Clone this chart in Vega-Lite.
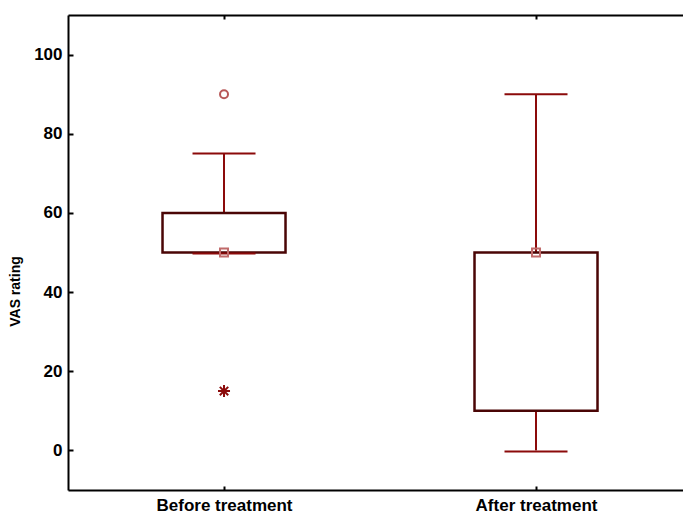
{
  "$schema": "https://vega.github.io/schema/vega-lite/v6.json",
  "width": 615,
  "height": 475,
  "autosize": {"type": "none"},
  "padding": {"left": 68, "top": 15, "right": 0, "bottom": 23},
  "background": "white",
  "config": {
    "view": {"stroke": null},
    "font": "Liberation Sans",
    "axis": {
      "labelFont": "Liberation Sans",
      "labelFontWeight": "bold",
      "labelFontSize": 17,
      "labelColor": "black",
      "titleFont": "Liberation Sans",
      "titleFontWeight": "bold",
      "titleColor": "black",
      "domainColor": "black",
      "domainWidth": 2,
      "tickColor": "black",
      "tickWidth": 2,
      "grid": false
    }
  },
  "datasets": {
    "boxes": [
      {"group": "Before treatment", "min": 50, "q1": 50, "median": 50, "q3": 60, "max": 75},
      {"group": "After treatment", "min": 0, "q1": 10, "median": 50, "q3": 50, "max": 90}
    ],
    "outliers": [
      {"group": "Before treatment", "value": 90}
    ],
    "extremes": [
      {"group": "Before treatment", "value": 15}
    ]
  },
  "resolve": {"axis": {"x": "independent"}},
  "layer": [
    {
      "data": {"name": "boxes"},
      "mark": {"type": "rule", "color": "#8b0a0a", "strokeWidth": 2},
      "encoding": {
        "x": {
          "field": "group",
          "type": "nominal",
          "sort": ["Before treatment", "After treatment"],
          "scale": {"type": "point", "padding": 0.4856, "align": 0.5149},
          "axis": {
            "orient": "bottom",
            "title": null,
            "labelAngle": 0,
            "tickSize": -4,
            "labelPadding": 11
          }
        },
        "y": {
          "field": "q3",
          "type": "quantitative",
          "scale": {"domain": [-10, 110], "nice": false, "zero": false},
          "axis": {
            "title": "VAS rating",
            "titleFontSize": 14,
            "labelFontSize": 17,
            "values": [0, 20, 40, 60, 80, 100],
            "tickSize": -5,
            "labelPadding": 11,
            "titleX": -46,
            "titleY": 276
          }
        },
        "y2": {"field": "max"}
      }
    },
    {
      "data": {"name": "boxes"},
      "mark": {"type": "rule", "color": "#8b0a0a", "strokeWidth": 2},
      "encoding": {
        "x": {"field": "group", "type": "nominal", "sort": ["Before treatment", "After treatment"], "axis": null},
        "y": {"field": "min", "type": "quantitative"},
        "y2": {"field": "q1"}
      }
    },
    {
      "data": {"name": "boxes"},
      "mark": {"type": "bar", "size": 123, "fill": "white", "stroke": "#4a0505", "strokeWidth": 2.5},
      "encoding": {
        "x": {"field": "group", "type": "nominal", "sort": ["Before treatment", "After treatment"], "axis": null},
        "y": {"field": "q1", "type": "quantitative"},
        "y2": {"field": "q3"}
      }
    },
    {
      "data": {"name": "boxes"},
      "mark": {"type": "tick", "size": 63, "thickness": 2, "color": "#8b0a0a", "opacity": 1},
      "encoding": {
        "x": {"field": "group", "type": "nominal", "sort": ["Before treatment", "After treatment"], "axis": null},
        "y": {"field": "max", "type": "quantitative"}
      }
    },
    {
      "data": {"name": "boxes"},
      "mark": {"type": "tick", "size": 63, "thickness": 2, "color": "#8b0a0a", "opacity": 1, "yOffset": 1},
      "encoding": {
        "x": {"field": "group", "type": "nominal", "sort": ["Before treatment", "After treatment"], "axis": null},
        "y": {"field": "min", "type": "quantitative"}
      }
    },
    {
      "data": {"name": "boxes"},
      "mark": {"type": "point", "shape": "square", "size": 64, "filled": false, "stroke": "#c06a6a", "strokeWidth": 2, "opacity": 1},
      "encoding": {
        "x": {"field": "group", "type": "nominal", "sort": ["Before treatment", "After treatment"], "axis": null},
        "y": {"field": "median", "type": "quantitative"}
      }
    },
    {
      "data": {"name": "outliers"},
      "mark": {"type": "point", "shape": "circle", "size": 64, "filled": false, "stroke": "#b85858", "strokeWidth": 2, "opacity": 1},
      "encoding": {
        "x": {"field": "group", "type": "nominal", "sort": ["Before treatment", "After treatment"], "axis": null},
        "y": {"field": "value", "type": "quantitative"}
      }
    },
    {
      "data": {"name": "extremes"},
      "mark": {
        "type": "point",
        "shape": "M-1,0H1M0,-1V1M-0.7,-0.7L0.7,0.7M-0.7,0.7L0.7,-0.7",
        "size": 144,
        "filled": false,
        "stroke": "#8b0a0a",
        "strokeWidth": 2,
        "opacity": 1
      },
      "encoding": {
        "x": {"field": "group", "type": "nominal", "sort": ["Before treatment", "After treatment"], "axis": null},
        "y": {"field": "value", "type": "quantitative"}
      }
    },
    {
      "data": {"name": "boxes"},
      "mark": {"type": "point", "opacity": 0},
      "encoding": {
        "x": {
          "field": "group",
          "type": "nominal",
          "sort": ["Before treatment", "After treatment"],
          "axis": {"orient": "top", "title": null, "labels": false, "tickSize": -4}
        },
        "y": {"field": "max", "type": "quantitative"}
      }
    }
  ]
}
